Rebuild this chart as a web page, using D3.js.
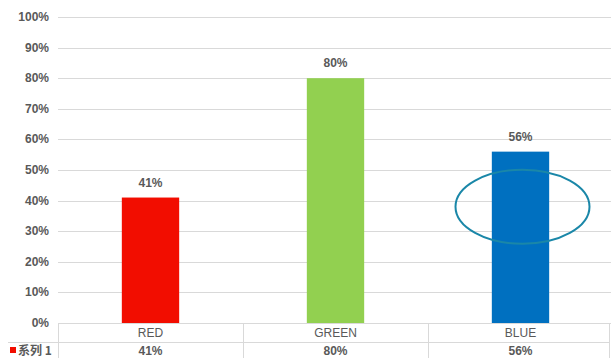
<!DOCTYPE html>
<html>
<head>
<meta charset="utf-8">
<script src="https://cdn.jsdelivr.net/npm/d3@7"></script>
<style>
	body { margin: 0; background: #fff; }
	text { font-family: "Liberation Sans", Arial, sans-serif; fill: #595959; }
</style>
</head>
<body>
<div id="chart"></div>
<script>
let categories = ["RED", "GREEN", "BLUE"];
let values = [0.41, 0.8, 0.56];
let barColors = ["#f20d00", "#92d050", "#0070c0"];
let seriesName = "系列 1";
let yTicks = [0, 0.1, 0.2, 0.3, 0.4, 0.5, 0.6, 0.7, 0.8, 0.9, 1];

var w = 611,
	h = 358;

let svg = d3
	.select("#chart")
	.append("svg")
	.attr("width", w)
	.attr("height", h);

let x = d3.scaleBand().domain(categories).range([58, 613]).paddingInner(0).paddingOuter(0);
let y = d3.scaleLinear().domain([0, 1]).range([323, 17]);
let pct = d3.format(".0%");

// gridlines
svg
	.selectAll("line.grid")
	.data(yTicks)
	.enter()
	.append("line")
	.attr("class", "grid")
	.attr("x1", 58)
	.attr("x2", w)
	.attr("y1", (d) => Math.round(y(d)) + 0.5)
	.attr("y2", (d) => Math.round(y(d)) + 0.5)
	.attr("stroke", "#d9d9d9")
	.attr("stroke-width", 1);

// y tick labels
svg
	.selectAll("text.ytick")
	.data(yTicks)
	.enter()
	.append("text")
	.attr("class", "ytick")
	.attr("x", 49)
	.attr("y", (d) => y(d) + 4)
	.attr("text-anchor", "end")
	.style("font-size", "12px")
	.style("font-weight", "bold")
	.text(pct);

// bars
let barW = x.bandwidth() * 0.31;
svg
	.selectAll("rect.bar")
	.data(values)
	.enter()
	.append("rect")
	.attr("class", "bar")
	.attr("x", (d, i) => x(categories[i]) + (x.bandwidth() - barW) / 2)
	.attr("y", (d) => y(d))
	.attr("width", barW)
	.attr("height", (d) => y(0) - y(d))
	.attr("fill", (d, i) => barColors[i]);

// value labels
svg
	.selectAll("text.val")
	.data(values)
	.enter()
	.append("text")
	.attr("class", "val")
	.attr("x", (d, i) => x(categories[i]) + x.bandwidth() / 2)
	.attr("y", (d) => y(d) - 11)
	.attr("text-anchor", "middle")
	.style("font-size", "12px")
	.style("font-weight", "bold")
	.text(pct);

// data table
let tableTop = 323,
	rowMid = 342,
	tableColor = "#d9d9d9";

svg
	.append("line")
	.attr("x1", 58)
	.attr("x2", 609)
	.attr("y1", tableTop + 0.5)
	.attr("y2", tableTop + 0.5)
	.attr("stroke", tableColor);

svg
	.append("line")
	.attr("x1", 8)
	.attr("x2", 609)
	.attr("y1", rowMid + 0.5)
	.attr("y2", rowMid + 0.5)
	.attr("stroke", tableColor);

let edges = categories.map((c) => x(c)).concat([609]);
svg
	.selectAll("line.vcell")
	.data(edges)
	.enter()
	.append("line")
	.attr("class", "vcell")
	.attr("x1", (d) => Math.round(d) + 0.5)
	.attr("x2", (d) => Math.round(d) + 0.5)
	.attr("y1", tableTop)
	.attr("y2", h)
	.attr("stroke", tableColor);

svg
	.selectAll("text.cat")
	.data(categories)
	.enter()
	.append("text")
	.attr("class", "cat")
	.attr("x", (d) => x(d) + x.bandwidth() / 2)
	.attr("y", 337)
	.attr("text-anchor", "middle")
	.style("font-size", "12px")
	.text((d) => d);

svg
	.selectAll("text.cell")
	.data(values)
	.enter()
	.append("text")
	.attr("class", "cell")
	.attr("x", (d, i) => x(categories[i]) + x.bandwidth() / 2)
	.attr("y", 355)
	.attr("text-anchor", "middle")
	.style("font-size", "12px")
	.style("font-weight", "bold")
	.text(pct);

svg
	.append("rect")
	.attr("x", 10)
	.attr("y", 347)
	.attr("width", 6)
	.attr("height", 6)
	.attr("fill", barColors[0]);

svg
	.append("text")
	.attr("x", 18)
	.attr("y", 355)
	.style("font-size", "12px")
	.style("font-weight", "bold")
	.style("font-family", "'Noto Sans CJK SC', 'Liberation Sans', sans-serif")
	.text(seriesName);

// highlight ellipse around BLUE bar
svg
	.append("ellipse")
	.attr("cx", x("BLUE") + x.bandwidth() / 2 + 2)
	.attr("cy", y(0.38))
	.attr("rx", 67)
	.attr("ry", 37)
	.attr("fill", "none")
	.attr("stroke", "#1a87a8")
	.attr("stroke-width", 2);
</script>
</body>
</html>
